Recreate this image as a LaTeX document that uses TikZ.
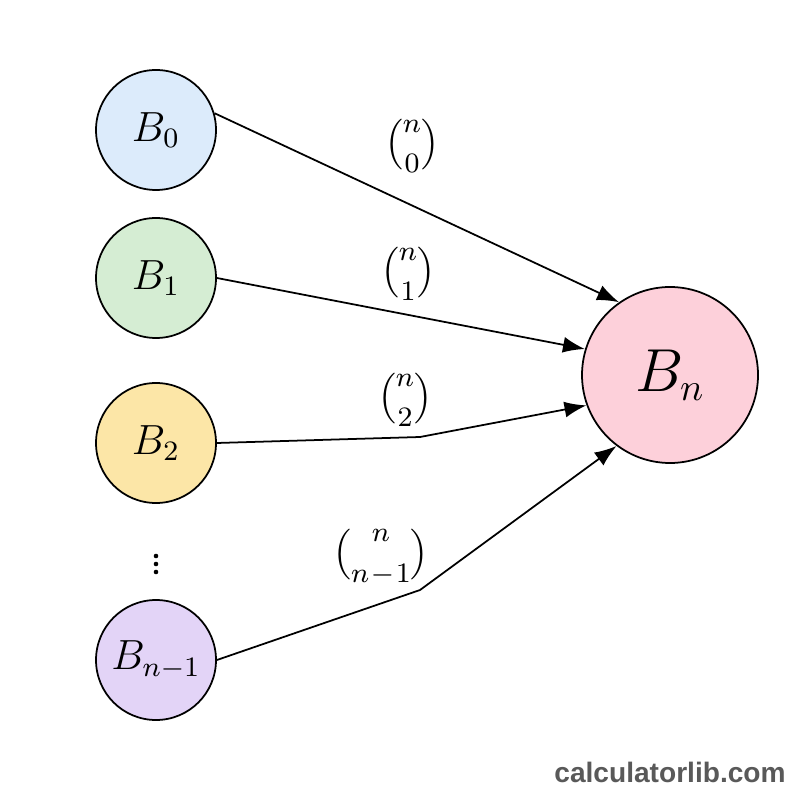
\documentclass[tikz,border=0pt]{standalone}
\usepackage{amsmath}
\usepackage{fontspec}
\newfontfamily\wmfont{Liberation Sans}
\usetikzlibrary{arrows.meta}
\begin{document}
\begin{tikzpicture}[x=0.1mm,y=-0.1mm,
  bnode/.style={circle,draw=black,line width=0.5pt,minimum size=12mm,inner sep=0pt,font=\fontsize{12}{14}\selectfont},
  conn/.style={-{Latex[length=2.2mm,width=1.6mm]},line width=0.5pt},
  lab/.style={font=\fontsize{8}{9}\selectfont},
  dot/.style={circle,fill=black,inner sep=0pt,minimum size=1.3pt}]
\useasboundingbox (0,0) rectangle (800,800);
\definecolor{cB0}{HTML}{DCEBFB}
\definecolor{cB1}{HTML}{D5EDD3}
\definecolor{cB2}{HTML}{FCE6A7}
\definecolor{cB3}{HTML}{E3D4F7}
\definecolor{cBn}{HTML}{FDD0DA}
\node[bnode,fill=cB0] (b0) at (156,130) {$B_0$};
\node[bnode,fill=cB1] (b1) at (156,278) {$B_1$};
\node[bnode,fill=cB2] (b2) at (156,443) {$B_2$};
\node[bnode,fill=cB3] (b3) at (156,660) {$B_{n-1}$};
\node[bnode,fill=cBn,minimum size=17.6mm,font=\fontsize{16}{18}\selectfont] (bn) at (670,375) {$B_n$};
\node[dot] (d1) at (156,556) {};
\node[dot] (d2) at (156,564) {};
\node[dot] (d3) at (156,572) {};
\coordinate (k2) at (420,437);
\coordinate (k3) at (420,590);
\draw[conn] (b0.16) -- (bn.125);
\draw[conn] (b1.east) -- (bn.163);
\draw[conn] (b2.east) -- (k2) -- (bn.200);
\draw[conn] (b3.east) -- (k3) -- (bn.233);
\node[lab] (l0) at (412,146) {$\dbinom{n}{0}$};
\node[lab] (l1) at (408,274) {$\dbinom{n}{1}$};
\node[lab] (l2) at (405,400) {$\dbinom{n}{2}$};
\node[lab] (l3) at (381,557) {$\dbinom{n}{n\!-\!1}$};
\node[font=\wmfont\bfseries\fontsize{8}{9}\selectfont,text=black!65] (wm) at (670,772) {calculatorlib.com};
\end{tikzpicture}
\end{document}
